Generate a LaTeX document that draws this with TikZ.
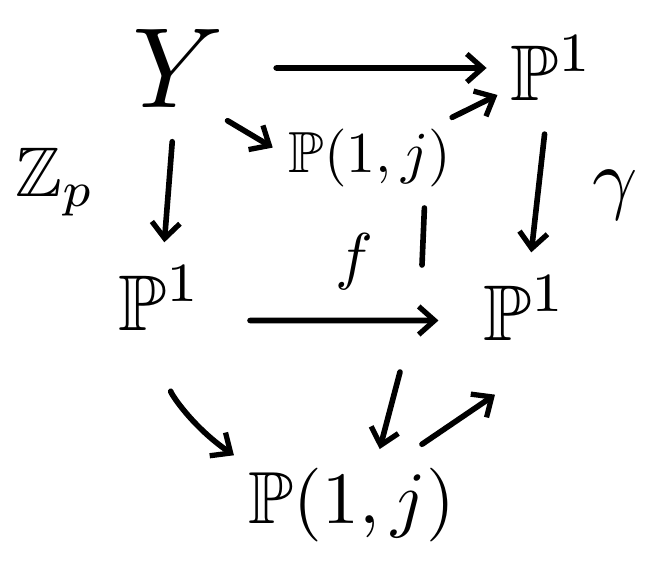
\documentclass[tikz,border=0pt]{standalone}
\usepackage{amsmath,amssymb}
\usetikzlibrary{arrows.meta}
\tikzset{
  obj/.style={scale=#1, inner sep=1pt},
  lbl/.style={scale=#1, inner sep=0pt},
  mor/.style={line width=3.2pt, line cap=round, shorten <=10pt, shorten >=8pt,
    -{Straight Barb[length=9pt,width=16pt,line width=3pt]}},
  seg/.style={line width=3.2pt, line cap=round},
}

\begin{document}
\begin{tikzpicture}[x=0.02cm, y=-0.02cm]
    \useasboundingbox (0,0) rectangle (655,573);

    % Objekte
    \node[obj=6.5] (y)  at (178,68)  {$Y$};
    \node[obj=4.5] (tr) at (552,68)  {$\mathbb{P}^1$};
    \node[obj=3.3] (m)  at (370,158) {$\mathbb{P}(1,j)$};
    \node[obj=4.5] (l)  at (160,298) {$\mathbb{P}^1$};
    \node[obj=4.5] (r)  at (525,308) {$\mathbb{P}^1$};
    \node[obj=4.2] (b)  at (352,505) {$\mathbb{P}(1,j)$};

    % Beschriftungen
    \node[lbl=4]   (zp) at (55,182)  {$\mathbb{Z}_p$};
    \node[lbl=4.5] (ga) at (615,195) {$\gamma$};
    \node[lbl=3.6] (f)  at (354,262) {$f$};

    % obere Reihe
    \draw[mor, shorten <=22pt] (y) -- (tr);
    \draw[mor, shorten <=0pt, shorten >=6pt] ([xshift=-0.2cm]y.south east) -- ([yshift=0.1cm]m.west);
    \draw[mor, shorten <=6pt, shorten >=2pt] (m) -- (tr);

    % senkrechte Pfeile
    \draw[mor, shorten <=12pt] (y) -- (l);
    \draw[mor, shorten <=14pt] (tr) -- (r);

    % f
    \draw[mor, shorten <=22pt, shorten >=20pt] ([yshift=-0.45cm]l.east) -- ([yshift=-0.25cm]r.west);

    % unterbrochener Pfeil nach unten
    \coordinate (cut1) at (422,265);
    \coordinate (cut2) at (400,372);
    \draw[seg, shorten <=8pt] ([xshift=1.1cm]m.south) -- (cut1);
    \draw[mor, shorten <=0pt, shorten >=6pt] (cut2) -- ([xshift=0.5cm]b.north);

    % unteres Dreieck
    \draw[mor, shorten <=30pt, shorten >=4pt] (l.south) to[bend right=22] (b.north west);
    \draw[mor, shorten <=0pt, shorten >=0pt] ([xshift=1.4cm, yshift=0.3cm]b.north) -- ([xshift=-0.6cm, yshift=-0.9cm]r.south);
\end{tikzpicture}
\end{document}
